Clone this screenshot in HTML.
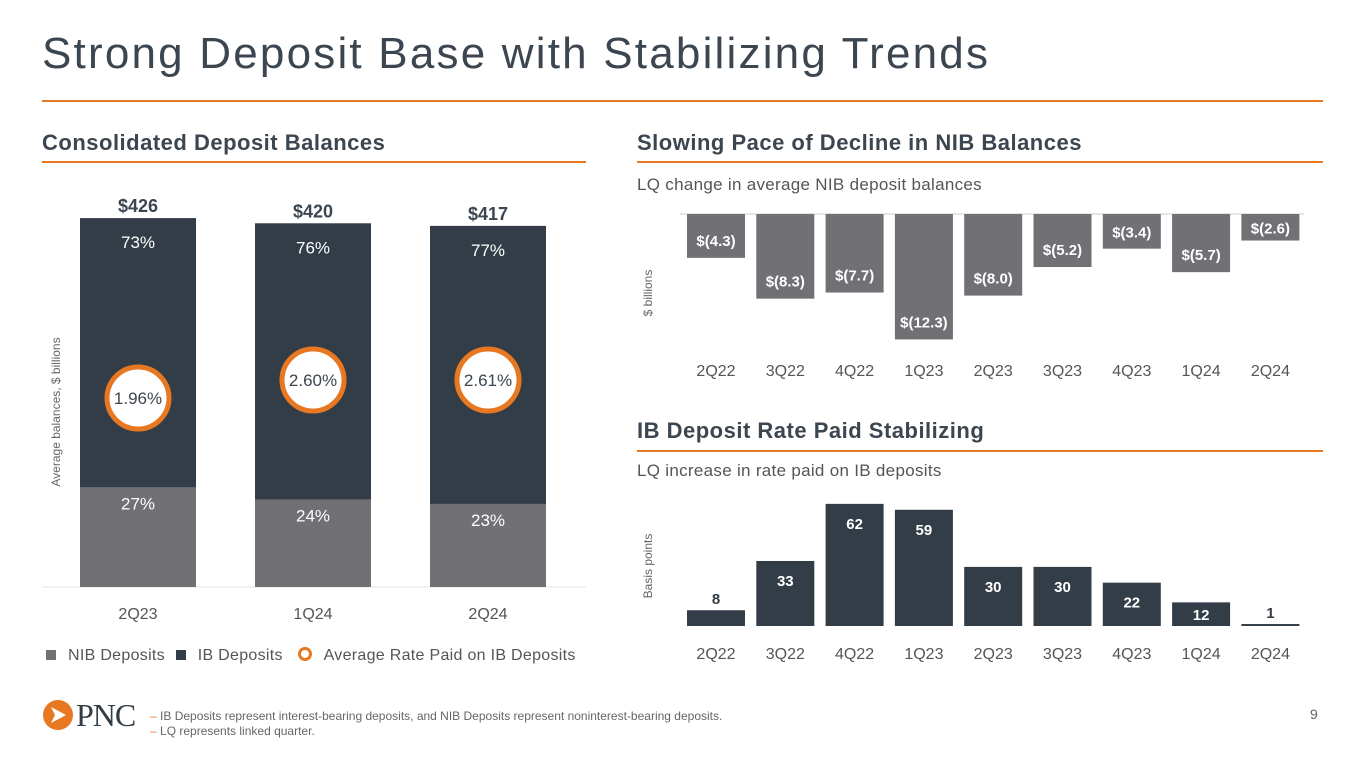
<!DOCTYPE html>
<html><head><meta charset="utf-8"><style>
body{margin:0;width:1365px;height:768px;background:#fff;font-family:"Liberation Sans",sans-serif;overflow:hidden;position:relative;color:#3c4650}
.abs{position:absolute}
.h{font-weight:bold;font-size:22px;color:#3c4650;letter-spacing:0.5px}
.ol{position:absolute;height:2px;background:#e87722}
</style></head><body>
<div class="abs" style="left:42px;top:29px;font-size:44px;letter-spacing:2.2px;color:#3c4650">Strong Deposit Base with Stabilizing Trends</div>
<div class="ol" style="left:42px;top:100px;width:1281px"></div>
<div class="abs h" style="left:42px;top:130px">Consolidated Deposit Balances</div>
<div class="ol" style="left:42px;top:161px;width:544px"></div>
<div class="abs h" style="left:637px;top:130px">Slowing Pace of Decline in NIB Balances</div>
<div class="ol" style="left:637px;top:161px;width:686px"></div>
<div class="abs" style="left:637px;top:175px;font-size:17px;color:#555;letter-spacing:0.3px">LQ change in average NIB deposit balances</div>
<div class="abs h" style="left:637px;top:418px">IB Deposit Rate Paid Stabilizing</div>
<div class="ol" style="left:637px;top:450px;width:686px"></div>
<div class="abs" style="left:637px;top:461px;font-size:17px;color:#555;letter-spacing:0.3px">LQ increase in rate paid on IB deposits</div>

<svg class="abs" style="left:0;top:0" width="1365" height="768" id="chart"></svg>

<div class="abs" style="left:46px;top:647px;font-size:16px;color:#555;white-space:nowrap;letter-spacing:0.3px">
<span><span style="display:inline-block;width:10px;height:10px;background:#707075;margin-right:12px"></span>NIB Deposits</span>
<span style="margin-left:6px"><span style="display:inline-block;width:10px;height:10px;background:#333d47;margin-right:12px"></span>IB Deposits</span>
<span style="margin-left:10px"><span style="display:inline-block;width:8px;height:8px;border:3px solid #e87722;border-radius:50%;margin-right:12px;vertical-align:-1px"></span>Average Rate Paid on IB Deposits</span>
</div>

<div class="abs" style="left:42px;top:698px;height:34px;display:flex;align-items:center">
<svg width="32" height="32"><circle cx="16" cy="16" r="15" fill="#e87722"/><path d="M9 8 L24 16 L9 24 L13 16Z" fill="#fff"/></svg>
<span style="font-family:'Liberation Serif',serif;font-size:32px;color:#333d47;margin-left:2px;letter-spacing:-1px">PNC</span>
</div>
<div class="abs" style="left:150px;top:709px;font-size:12px;color:#666;line-height:15px">
<div><span style="color:#e87722">–</span> IB Deposits represent interest-bearing deposits, and NIB Deposits represent noninterest-bearing deposits.</div>
<div><span style="color:#e87722">–</span> LQ represents linked quarter.</div>
</div>
<div class="abs" style="left:1310px;top:706px;font-size:14px;color:#666">9</div>

<script>
const leftCats=["2Q23","1Q24","2Q24"];
const leftTotals=[426,420,417];
const nibPct=[27,24,23];
const ibPct=[73,76,77];
const ratePaid=["1.96%","2.60%","2.61%"];
const nibCats=["2Q22","3Q22","4Q22","1Q23","2Q23","3Q23","4Q23","1Q24","2Q24"];
const nibChange=[-4.3,-8.3,-7.7,-12.3,-8.0,-5.2,-3.4,-5.7,-2.6];
const ibCats=["2Q22","3Q22","4Q22","1Q23","2Q23","3Q23","4Q23","1Q24","2Q24"];
const ibBps=[8,33,62,59,30,30,22,12,1];

const svg=document.getElementById('chart');
const NS="http://www.w3.org/2000/svg";
function mk(tag,attrs,name,txt){const e=document.createElementNS(NS,tag);for(const k in attrs)e.setAttribute(k,attrs[k]);


if(txt!==undefined)e.textContent=txt;svg.appendChild(e);return e;}
const F='"Liberation Sans",sans-serif';

// left stacked chart
const lBase=587,lScale=0.866,lX=i=>138+i*175,lW=116;
mk('line',{x1:42,x2:586,y1:lBase,y2:lBase,stroke:'#e6e6e6','stroke-width':1},'left-baseline');
leftTotals.forEach((t,i)=>{
  const x=lX(i)-lW/2,h=t*lScale,hn=t*nibPct[i]/100*lScale;
  mk('rect',{x:x,y:lBase-hn,width:lW,height:hn,fill:'#707075'},'nib-bar-'+leftCats[i]);
  mk('rect',{x:x,y:lBase-h,width:lW,height:h-hn,fill:'#333d47'},'ib-bar-'+leftCats[i]);
  mk('text',{x:lX(i),y:lBase-h-6,'text-anchor':'middle','font-size':18,'font-weight':'bold',fill:'#3c4650','font-family':F},'total-label-'+leftCats[i],'$'+t);
  mk('text',{x:lX(i),y:lBase-h+30,'text-anchor':'middle','font-size':17,fill:'#fff','font-family':F},'ib-pct-'+leftCats[i],ibPct[i]+'%');
  mk('text',{x:lX(i),y:lBase-hn+22,'text-anchor':'middle','font-size':17,fill:'#fff','font-family':F},'nib-pct-'+leftCats[i],nibPct[i]+'%');
  const cy=i===0?398:380;
  mk('circle',{cx:lX(i),cy:cy,r:31,fill:'#fff',stroke:'#e87722','stroke-width':5},'rate-circle-'+leftCats[i]);
  mk('text',{x:lX(i),y:cy+6,'text-anchor':'middle','font-size':17,fill:'#3c4650','font-family':F},'rate-label-'+leftCats[i],ratePaid[i]);
  mk('text',{x:lX(i),y:619,'text-anchor':'middle','font-size':16,fill:'#555','font-family':F},'left-x-label-'+leftCats[i],leftCats[i]);
});
mk('text',{x:0,y:0,transform:'translate(60,412) rotate(-90)','text-anchor':'middle','font-size':12,fill:'#666','font-family':F},'left-y-title','Average balances, $ billions');

// NIB chart
const nZero=214,nScale=10.2,nX=i=>716+i*69.3,nW=58;
mk('line',{x1:680,x2:1304,y1:nZero,y2:nZero,stroke:'#e6e6e6','stroke-width':2},'nib-zero-line');
nibChange.forEach((v,i)=>{
  const h=Math.abs(v)*nScale;
  mk('rect',{x:nX(i)-nW/2,y:nZero,width:nW,height:h,fill:'#707075'},'nib-bar-'+nibCats[i]);
  const ly=h>40?nZero+h-12:nZero+h/2+6;
  mk('text',{x:nX(i),y:ly,'text-anchor':'middle','font-size':15,'font-weight':'bold',fill:'#fff','font-family':F},'nib-value-'+nibCats[i],'$('+Math.abs(v).toFixed(1)+')');
  mk('text',{x:nX(i),y:376,'text-anchor':'middle','font-size':16,fill:'#555','font-family':F},'nib-x-label-'+nibCats[i],nibCats[i]);
});
mk('text',{x:0,y:0,transform:'translate(652,293) rotate(-90)','text-anchor':'middle','font-size':12,fill:'#666','font-family':F},'nib-y-title','$ billions');

// IB chart
const iBase=626,iScale=1.97;
ibBps.forEach((v,i)=>{
  const h=Math.max(v*iScale,1.5);
  mk('rect',{x:nX(i)-nW/2,y:iBase-h,width:nW,height:h,fill:'#333d47'},'ib-bar-'+ibCats[i]);
  const big=h>30, mid=h>20;
  const y=big?iBase-h+25:(mid?iBase-h/2+6:iBase-h-6);
  mk('text',{x:nX(i),y:y,'text-anchor':'middle','font-size':15,'font-weight':'bold',fill:mid?'#fff':'#333d47','font-family':F},'ib-value-'+ibCats[i],v);
  mk('text',{x:nX(i),y:659,'text-anchor':'middle','font-size':16,fill:'#555','font-family':F},'ib-x-label-'+ibCats[i],ibCats[i]);
});
mk('text',{x:0,y:0,transform:'translate(652,566) rotate(-90)','text-anchor':'middle','font-size':12,fill:'#666','font-family':F},'ib-y-title','Basis points');
</script>
</body></html>
